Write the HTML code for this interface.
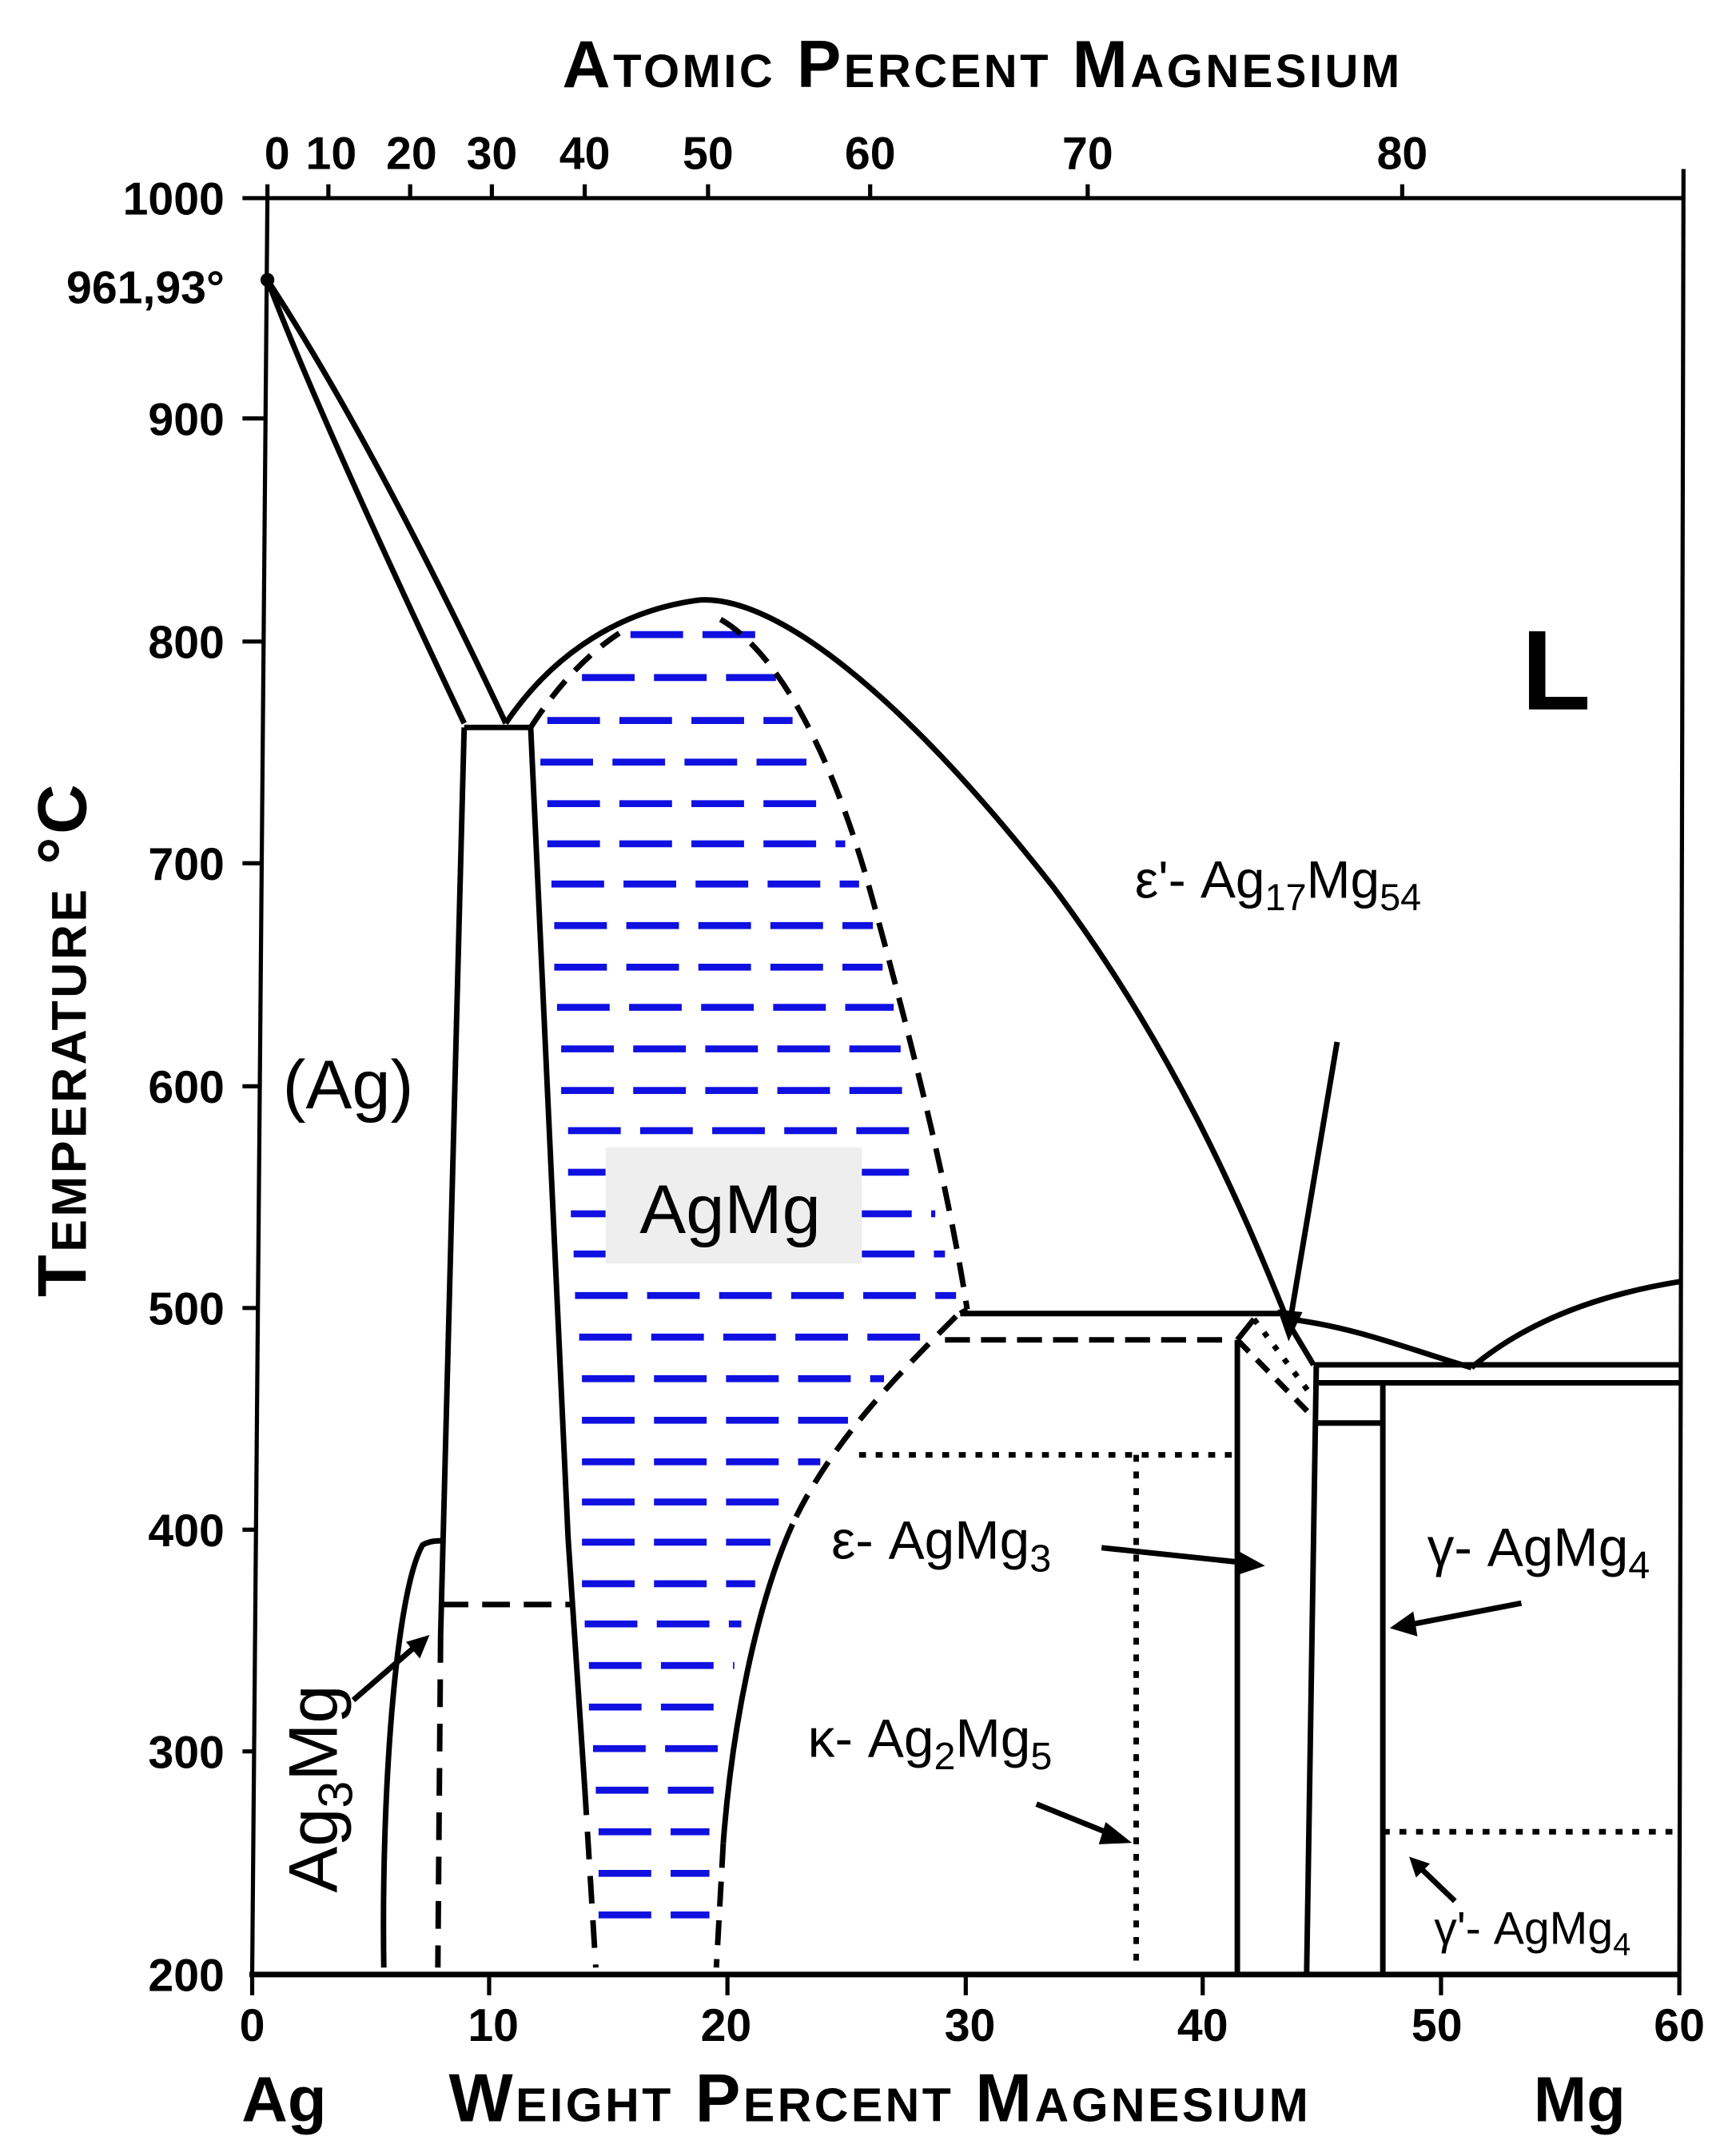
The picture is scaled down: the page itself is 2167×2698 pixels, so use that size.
<!DOCTYPE html>
<html><head><meta charset="utf-8"><style>
html,body{margin:0;padding:0;background:#fff;}
svg{display:block;}
text{font-family:"Liberation Sans",Arial,sans-serif;}
.t{font-weight:bold;font-size:33px;}
</style></head><body>
<svg width="2167" height="2698" viewBox="0 0 1250 1556" preserveAspectRatio="none" xmlns="http://www.w3.org/2000/svg">
<rect width="1250" height="1556" fill="#fff"/>
<g fill="none" stroke="#000" stroke-width="3">
<line x1="175" y1="143" x2="1215" y2="143"/>
<line x1="193" y1="143" x2="182" y2="1425"/>
<line x1="1215" y1="122" x2="1212" y2="1425"/>
<line x1="180" y1="1425" x2="1212" y2="1425" stroke-width="4"/>
<path d="M193 133V143M237 133V143M296 133V143M355 133V143M422 133V143M511 133V143M628 133V143M785 133V143M1012 133V143"/>
<path d="M175 302H191M175 463H190M175 623H188M175 784H187M175 944H186M175 1104H185M175 1264H184"/>
<path d="M182 1425V1440M353 1425V1440M525 1425V1440M697 1425V1440M868 1425V1440M1040 1425V1440M1212 1425V1440"/>
</g>
<circle cx="193" cy="202" r="5" fill="#000"/>
<g stroke="#1010e0" stroke-width="5" stroke-dasharray="38 14" fill="none">
<path d="M455 458H545M420 489H560M395 520H572M390 550H582M395 580H595M395 609H610M398 638H620M400 668H630M400 698H637M402 727H645M405 757H650M405 787H658M410 816H663M410 846H668M412 876H675M414 905H682M415 935H690M418 965H665M420 995H638M420 1025H612M420 1055H592M420 1084H572M420 1113H556M420 1143H545M422 1172H535M425 1202H530M425 1232H525M428 1262H520M430 1292H515M432 1322H512M432 1352H512M432 1382H512"/>
</g>
<rect x="437" y="828" width="185" height="84" fill="#eeeeee"/>
<g fill="none" stroke="#000" stroke-width="4">
<path d="M193 202 Q270 320 365 522"/>
<path d="M193 202 Q230 300 335 522"/>
<path d="M335 525H383"/>
<path d="M365 522 C400 470 450 440 505 433 C560 430 650 500 760 640 C850 760 900 880 930 955"/>
<path d="M335 525 L318 1180"/>
<path d="M318 1180 L316 1420" stroke-dasharray="20 12"/>
<path d="M383 525 L410 1110 L422 1290"/>
<path d="M422 1290 L430 1420" stroke-dasharray="20 12"/>
<path d="M383 525 Q415 475 455 452" stroke-dasharray="16 10"/>
<path d="M520 447 C560 470 600 540 630 650 C660 760 685 860 698 945" stroke-dasharray="18 10"/>
<path d="M690 950 C650 990 600 1040 572 1100" stroke-dasharray="18 10"/>
<path d="M572 1100 C545 1160 528 1250 522 1330"/>
<path d="M522 1330 L517 1420" stroke-dasharray="18 10"/>
<path d="M277 1420 C275 1300 285 1150 305 1115 Q310 1112 318 1112"/>
<path d="M318 1158H413" stroke-dasharray="20 10"/>
<path d="M693 948H930"/>
<path d="M698 945 L693 948"/>
<path d="M682 967H890" stroke-dasharray="18 8"/>
<path d="M893 967V1425"/>
<path d="M893 967 L905 952"/>
<path d="M905 952 L945 1005" stroke-dasharray="4 8"/>
<path d="M893 967 L945 1020" stroke-dasharray="12 8"/>
<path d="M930 955 L948 985"/>
<path d="M950 985 L943 1425"/>
<path d="M998 998V1425"/>
<path d="M930 952 C980 958 1020 975 1062 987"/>
<path d="M1062 987 C1100 955 1150 935 1212 925"/>
<path d="M948 985H1212M948 998H1212M948 1027H998"/>
<path d="M620 1050H893M820 1050V1420M998 1322H1212" stroke-dasharray="5 7"/>
<path d="M965 752 L930 960"/>
<path d="M795 1117 L900 1128"/>
<path d="M1098 1157 L1015 1173"/>
<path d="M748 1302 L805 1325"/>
<path d="M1050 1372 L1025 1348"/>
<path d="M255 1227 L300 1188"/>
</g>
<g fill="#000">
<polygon points="930,968 922,945 940,947"/>
<polygon points="913,1130 893,1119 892,1137"/>
<polygon points="1003,1175 1020,1163 1023,1181"/>
<polygon points="817,1330 798,1315 793,1331"/>
<polygon points="1017,1340 1032,1345 1022,1355"/>
<polygon points="310,1180 293,1185 303,1197"/>
</g>
<g class="t" text-anchor="end">
<text x="162" y="155">1000</text>
<text x="162" y="219">961,93°</text>
<text x="162" y="314">900</text>
<text x="162" y="475">800</text>
<text x="162" y="635">700</text>
<text x="162" y="796">600</text>
<text x="162" y="956">500</text>
<text x="162" y="1116">400</text>
<text x="162" y="1276">300</text>
<text x="162" y="1437">200</text>
</g>
<g class="t" text-anchor="middle">
<text x="200" y="122">0</text><text x="239" y="122">10</text><text x="297" y="122">20</text><text x="355" y="122">30</text><text x="422" y="122">40</text><text x="511" y="122">50</text><text x="628" y="122">60</text><text x="785" y="122">70</text><text x="1012" y="122">80</text>
<text x="182" y="1473">0</text><text x="356" y="1473">10</text><text x="524" y="1473">20</text><text x="700" y="1473">30</text><text x="868" y="1473">40</text><text x="1037" y="1473">50</text><text x="1212" y="1473">60</text>
</g>
<g font-weight="bold" style="font-variant:small-caps">
<text x="709" y="63" text-anchor="middle" letter-spacing="2" font-size="48">Atomic Percent Magnesium</text>
<text x="635" y="1531" text-anchor="middle" letter-spacing="2" font-size="49">Weight Percent Magnesium</text>
<text transform="translate(62,750) rotate(-90)" text-anchor="middle" letter-spacing="2" font-size="50">Temperature  °C</text>
<text x="205" y="1531" text-anchor="middle" style="font-variant:normal" font-size="46">Ag</text>
<text x="1140" y="1531" text-anchor="middle" style="font-variant:normal" font-size="46">Mg</text>
</g>
<text x="1098" y="512" font-size="82" font-weight="bold">L</text>
<text x="204" y="800" font-size="50">(Ag)</text>
<text x="527" y="890" font-size="50" text-anchor="middle">AgMg</text>
<text x="819" y="648" font-size="38">ε'- Ag<tspan font-size="27" dy="9">17</tspan><tspan dy="-9">Mg</tspan><tspan font-size="27" dy="9">54</tspan></text>
<text x="600" y="1125" font-size="39">ε- AgMg<tspan font-size="28" dy="9">3</tspan></text>
<text x="1030" y="1130" font-size="39">γ- AgMg<tspan font-size="28" dy="9">4</tspan></text>
<text x="583" y="1268" font-size="39">κ- Ag<tspan font-size="28" dy="9">2</tspan><tspan dy="-9">Mg</tspan><tspan font-size="28" dy="9">5</tspan></text>
<text x="1035" y="1403" font-size="33">γ'- AgMg<tspan font-size="23" dy="8">4</tspan></text>
<text transform="translate(243,1366) rotate(-90)" font-size="50">Ag<tspan font-size="35" dy="11">3</tspan><tspan dy="-11">Mg</tspan></text>
</svg>
</body></html>
